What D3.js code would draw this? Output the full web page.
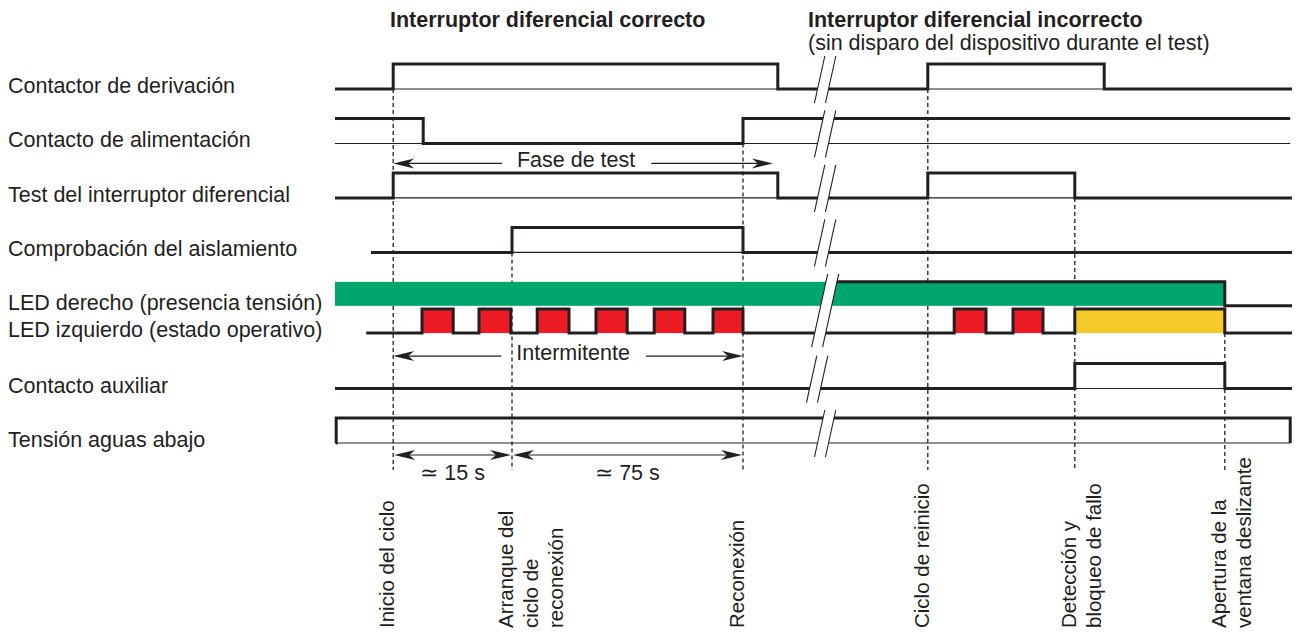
<!DOCTYPE html>
<html>
<head>
<meta charset="utf-8">
<script src="https://cdn.jsdelivr.net/npm/d3@7"></script>
<style>
  body { margin: 0; background: #fff; }
  svg text { font-family: "Liberation Sans", Arial, Helvetica, sans-serif; fill: #231f20; }
</style>
</head>
<body>
<svg width="1298" height="634"></svg>
<script>
// ---------------- Data ----------------
var rowLabels = [
  "Contactor de derivación",
  "Contacto de alimentación",
  "Test del interruptor diferencial",
  "Comprobación del aislamiento",
  "LED derecho (presencia tensión)",
  "LED izquierdo (estado operativo)",
  "Contacto auxiliar",
  "Tensión aguas abajo"
];

// step signals: [time, level]  (0 = bajo, 1 = alto, 2 = fallo)
var contactorDerivacion   = [[0, 0], [9.7, 1], [73.8, 0], [98.8, 1], [128.2, 0], [159.5, 0]];
var contactoAlimentacion  = [[0, 1], [14.7, 0], [68, 1], [159.2, 1]];
var testDiferencial       = [[0, 0], [9.7, 1], [73.8, 0], [98.8, 1], [123.3, 0], [159.5, 0]];
var comprobacionAislam    = [[6, 0], [29.5, 1], [68, 0], [159.5, 0]];
var ledDerecho            = [[0, 1], [148.3, 0], [159.5, 0]];
var ledIzquierdo          = [[5.2, 0], [14.5, 1], [19.7, 0], [24, 1], [29.3, 0], [33.7, 1], [39, 0],
                             [43.5, 1], [48.7, 0], [53.2, 1], [58.3, 0], [63, 1], [68, 0],
                             [103.2, 1], [108.5, 0], [113, 1], [118, 0], [123.3, 2], [148.3, 0], [159.5, 0]];
var contactoAuxiliar      = [[0, 0], [123.3, 1], [148.3, 0], [159.5, 0]];
var tensionAguasAbajo     = [[0.1, 0], [0.2, 1], [159.2, 0]];

var signals = [contactorDerivacion, contactoAlimentacion, testDiferencial, comprobacionAislam,
               ledDerecho, ledIzquierdo, contactoAuxiliar, tensionAguasAbajo];

var breakTime = 81.8;

var titles = ["Interruptor diferencial correcto", "Interruptor diferencial incorrecto"];
var subtitle = "(sin disparo del dispositivo durante el test)";

// vertical events: time, row where the dashed line starts, rotated label
var events = [
  {t: 9.7,   row: 0, text: ["Inicio del ciclo"]},
  {t: 29.5,  row: 3, text: ["Arranque del", "ciclo de", "reconexión"]},
  {t: 68,    row: 1, text: ["Reconexión"]},
  {t: 98.8,  row: 0, text: ["Ciclo de reinicio"]},
  {t: 123.3, row: 2, text: ["Detección y", "bloqueo de fallo"]},
  {t: 148.3, row: 5, text: ["Apertura de la", "ventana deslizante"]}
];

var spanArrows = [
  {from: 9.7, to: 73.0, row: 1, text: "Fase de test"},
  {from: 9.7, to: 68,   row: 5, text: "Intermitente"}
];

var durations = [
  {from: 9.7,  to: 29.5, text: "\u2243 15 s"},
  {from: 29.5, to: 68,   text: "\u2243 75 s"}
];

// ---------------- Layout ----------------
var ink = "#231f20";
var fontSize = 21.5;
var ledFill = {4: {1: "#00a66c"}, 5: {1: "#ed1c24", 2: "#f4c928"}};
var rowLane = [0, 1, 2, 3, 4, 4.5, 5.5, 6.5];
var rowH = [25, 25, 25, 25, 24, 24, 25, 25];
var thinBase = [true, true, true, true, false, false, true, true];
var breakGroups = [[0], [1], [2], [3], [4, 5], [6], [7]];
var breakShift = [0, 0, 0, 0, 0, -8, 0];

var svg = d3.select("svg");
var x = d3.scaleLinear().domain([0, 160]).range([335, 1295]);
var lane = d3.scaleLinear().domain([0, 6.5]).range([64, 418]);

function yTop(r) { return lane(rowLane[r]); }
function yLow(r) { return yTop(r) + rowH[r]; }

var stepLine = d3.line()
    .x(function(d) { return x(d[0]); })
    .y(function(d) { return d[1]; })
    .curve(d3.curveStepAfter);

function rowPoints(series, r) {
  return series.map(function(d) { return [d[0], d[1] > 0 ? yTop(r) : yLow(r)]; });
}

function clipFrom(series, t0) {
  var level = series[0][1], out = [];
  series.forEach(function(d) {
    if (d[0] <= t0) level = d[1]; else out.push(d);
  });
  return [[t0, level]].concat(out);
}

// ---- dashed event lines ----
var bottomDash = 470;
svg.append("g").selectAll("line")
  .data(events).enter().append("line")
    .attr("x1", function(d) { return x(d.t); })
    .attr("x2", function(d) { return x(d.t); })
    .attr("y1", function(d) { return yLow(d.row); })
    .attr("y2", bottomDash)
    .attr("stroke", ink)
    .attr("stroke-width", 1.3)
    .attr("stroke-dasharray", "4,3");

// ---- LED fills ----
var fills = svg.append("g");
signals.forEach(function(series, r) {
  if (!ledFill[r]) return;
  for (var i = 0; i < series.length - 1; i++) {
    var lv = series[i][1];
    if (lv > 0) {
      fills.append("rect")
        .attr("x", x(series[i][0]))
        .attr("width", x(series[i + 1][0]) - x(series[i][0]))
        .attr("y", yTop(r))
        .attr("height", rowH[r])
        .attr("fill", ledFill[r][lv]);
    }
  }
});

// ---- thin baselines ----
signals.forEach(function(series, r) {
  if (!thinBase[r]) return;
  svg.append("line")
    .attr("x1", x(series[0][0])).attr("x2", x(series[series.length - 1][0]))
    .attr("y1", yLow(r)).attr("y2", yLow(r))
    .attr("stroke", ink).attr("stroke-width", 1.1);
});

// ---- thick signal outlines ----
signals.forEach(function(series, r) {
  var s = (r === 4) ? clipFrom(series, breakTime) : series;
  svg.append("path")
    .attr("d", stepLine(rowPoints(s, r)))
    .attr("fill", "none")
    .attr("stroke", ink)
    .attr("stroke-width", 3)
    .attr("stroke-linejoin", "miter");
});

// ---- break marks ----
var slope = 0.22, gap = 11;
breakGroups.forEach(function(g, gi) {
  var top = yTop(g[0]) - 8, bot = yLow(g[g.length - 1]) + 14;
  var mid = (yTop(g[0]) + yLow(g[g.length - 1])) / 2;
  var cx = x(breakTime) + breakShift[gi];
  function xl(y, off) { return cx + off + (mid - y) * slope; }
  var pts = [[xl(top, -gap / 2), top], [xl(top, gap / 2), top], [xl(bot, gap / 2), bot], [xl(bot, -gap / 2), bot]];
  svg.append("path")
    .attr("d", "M" + pts.join("L") + "Z")
    .attr("fill", "#fff");
  [-gap / 2, gap / 2].forEach(function(off) {
    svg.append("line")
      .attr("x1", xl(top, off)).attr("y1", top)
      .attr("x2", xl(bot, off)).attr("y2", bot)
      .attr("stroke", ink).attr("stroke-width", 1.1);
  });
});

// ---- arrows ----
function arrowHead(xt, y, dir) {
  svg.append("path")
    .attr("d", "M" + xt + "," + y +
               "L" + (xt - dir * 21) + "," + (y - 5) +
               "L" + (xt - dir * 15) + "," + y +
               "L" + (xt - dir * 21) + "," + (y + 5) + "Z")
    .attr("fill", ink);
}
function hLine(x1, x2, y) {
  svg.append("line").attr("x1", x1).attr("x2", x2).attr("y1", y).attr("y2", y)
    .attr("stroke", ink).attr("stroke-width", 1.2);
}

spanArrows.forEach(function(a) {
  var y = yLow(a.row) + (a.row === 1 ? 20 : 23);
  var x1 = x(a.from), x2 = x(a.to), mid = (x1 + x2) / 2 + (a.row === 1 ? -7 : 5);
  var t = svg.append("text")
    .attr("x", mid).attr("y", y + 4)
    .attr("text-anchor", "middle")
    .attr("font-size", fontSize)
    .text(a.text);
  var w = t.node().getComputedTextLength();
  hLine(x1 + 10, mid - w / 2 - 15, y);
  hLine(mid + w / 2 + 16, x2 - 10, y);
  arrowHead(x1, y, -1);
  arrowHead(x2, y, 1);
});

var durY = yLow(7) + 12;
durations.forEach(function(d) {
  var x1 = x(d.from), x2 = x(d.to);
  hLine(x1 + 10, x2 - 10, durY);
  arrowHead(x1 + 1, durY, -1);
  arrowHead(x2 - 1, durY, 1);
  svg.append("text")
    .attr("x", (x1 + x2) / 2).attr("y", durY + 25)
    .attr("text-anchor", "middle")
    .attr("font-size", fontSize)
    .text(d.text);
});

// ---- row labels ----
svg.append("g").selectAll("text")
  .data(rowLabels).enter().append("text")
    .attr("x", 8)
    .attr("y", function(d, i) { return yLow(i) + 4; })
    .attr("font-size", fontSize)
    .text(function(d) { return d; });

// ---- titles ----
svg.append("text").attr("x", 390).attr("y", 27)
  .attr("font-size", fontSize).attr("font-weight", "bold").text(titles[0]);
svg.append("text").attr("x", 808).attr("y", 27)
  .attr("font-size", fontSize).attr("font-weight", "bold").text(titles[1]);
svg.append("text").attr("x", 808).attr("y", 50)
  .attr("font-size", fontSize).text(subtitle);

// ---- rotated event labels ----
events.forEach(function(e) {
  e.text.forEach(function(line, k) {
    var lx = x(e.t) + 1 + k * 25, ly = 628;
    svg.append("text")
      .attr("transform", "translate(" + lx + "," + ly + ") rotate(-90)")
      .attr("font-size", 20.5)
      .text(line);
  });
});
</script>
</body>
</html>
